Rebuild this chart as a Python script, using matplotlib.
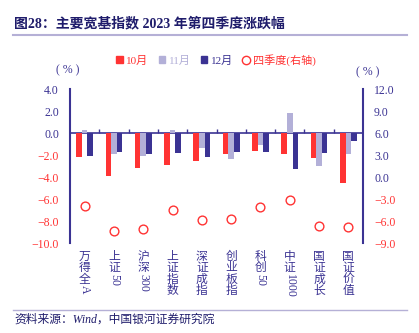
import re
import numpy as np
import matplotlib
matplotlib.use("Agg")
import matplotlib.pyplot as plt
from matplotlib.lines import Line2D
from matplotlib.patches import Patch
from matplotlib.font_manager import FontProperties
from matplotlib.textpath import TextToPath

plt.rcParams['font.family'] = ['Liberation Serif', 'Noto Sans CJK SC', 'DejaVu Sans']
plt.rcParams['axes.unicode_minus'] = False

categories = ["万得全A", "上证50", "沪深300", "上证指数", "深证成指",
              "创业板指", "科创50", "中证1000", "国证成长", "国证价值"]
oct_chg = [-2.2, -3.9, -3.2, -2.9, -2.5, -1.9, -1.6, -1.9, -2.3, -4.5]
nov_chg = [0.3, -1.9, -2.1, 0.3, -1.4, -2.4, -1.1, 1.8, -3.0, -1.9]
dec_chg = [-2.1, -1.7, -1.9, -1.8, -2.2, -1.7, -1.7, -3.3, -1.8, -0.7]
q4_chg = [-3.9, -7.3, -7.1, -4.5, -5.9, -5.7, -4.05, -3.2, -6.7, -6.8]

left_ticks = [4.0, 2.0, 0.0, -2.0, -4.0, -6.0, -8.0, -10.0]
right_ticks = [12.0, 9.0, 6.0, 3.0, 0.0, -3.0, -6.0, -9.0]

RED = "#ff3333"
LAV = "#b3b0d8"
NAVY = "#3b3393"
TITLE = "#1f1c6b"

W, H = 419, 333
fig = plt.figure(figsize=(W / 100, H / 100), dpi=100)
ax = fig.add_axes([70 / W, 1 - 243 / H, (363 - 70) / W, (243 - 89) / H])
ax2 = ax.twinx()

x = np.arange(len(categories))
bw = 0.19
ax.bar(x - bw, oct_chg, bw, color=RED, zorder=3)
ax.bar(x, nov_chg, bw, color=LAV, zorder=3)
ax.bar(x + bw, dec_chg, bw, color=NAVY, zorder=3)
ax2.plot(x, q4_chg, 'o', ms=6.3, mfc='none', mec=RED, mew=1.0)

ax.set_xlim(-0.5, len(categories) - 0.5)
ax.set_ylim(-10, 4)
ax2.set_ylim(-9, 12)

for a in (ax, ax2):
    a.spines['top'].set_visible(False)
    a.patch.set_visible(False)
ax2.spines['bottom'].set_visible(False)
ax2.spines['left'].set_visible(False)
ax.spines['right'].set_visible(False)
ax.spines['left'].set_color(NAVY)
ax.spines['left'].set_linewidth(1.5)
ax2.spines['right'].set_color(NAVY)
ax2.spines['right'].set_linewidth(1.5)
ax.spines['bottom'].set_position(('data', 0))
ax.spines['bottom'].set_color(NAVY)
ax.spines['bottom'].set_linewidth(1.2)
ax.set_zorder(2)

ax.set_xticks(x[:-1] + 0.5)
ax.set_xticklabels([])
ax.tick_params(axis='x', direction='in', length=3, color=NAVY, width=1)

ax.set_yticks(left_ticks)
ax.set_yticklabels([f"{v:.1f}".replace("-", "\u2212") for v in left_ticks])
ax.set_yticks([4, -10], minor=True)
ax.tick_params(axis='y', which='major', length=0, pad=8, labelsize=8.5)
ax.tick_params(axis='y', which='minor', direction='in', length=3, width=1.5, color=NAVY)
for lab, v in zip(ax.get_yticklabels(), left_ticks):
    lab.set_color(RED if v < 0 else NAVY)

ax2.set_yticks(right_ticks)
ax2.set_yticklabels([f"{v:.1f}".replace("-", "\u2212") for v in right_ticks])
ax2.set_yticks([12, -9], minor=True)
ax2.tick_params(axis='y', which='major', length=0, pad=8, labelsize=8.5)
ax2.tick_params(axis='y', which='minor', direction='in', length=3, width=1.5, color=NAVY)
for lab, v in zip(ax2.get_yticklabels(), right_ticks):
    lab.set_color(RED if v < 0 else NAVY)

# vertical category labels: CJK stacked upright, latin runs rotated
fs = 8.5
t2p = TextToPath()
prop = FontProperties(family='Liberation Serif', size=fs)
for xi, name in zip(x, categories):
    off = 0.0
    for seg in re.findall(r'[A-Za-z0-9]+|.', name):
        cjk = ord(seg[0]) > 255
        ax.annotate(seg, xy=(xi, 0), xycoords=('data', 'axes fraction'),
                    xytext=(0, -6 - off), textcoords='offset points',
                    ha='center', va='top', rotation=0 if cjk else -90,
                    fontsize=fs, color=NAVY)
        if cjk:
            off += 8.0
        else:
            w, h, d = t2p.get_text_width_height_descent(seg, prop, ismath=False)
            off += w + 1.5

fig.text(68 / W, 1 - 70 / H, "( % )", color=NAVY, fontsize=8.5, ha='center', va='center')
fig.text(368 / W, 1 - 72 / H, "( % )", color=NAVY, fontsize=8.5, ha='center', va='center')

handles = [Patch(color=RED), Patch(color=LAV), Patch(color=NAVY),
           Line2D([], [], ls='none', marker='o', ms=6, mfc='none', mec=RED)]
labels = ["10月", "11月", "12月", "四季度(右轴)"]
leg = fig.legend(handles, labels, loc='center', bbox_to_anchor=(216 / W, 1 - 60 / H),
                 ncol=4, frameon=False, fontsize=8, handlelength=0.6,
                 handleheight=0.6, handletextpad=0.3, columnspacing=0.9)
for txt, c in zip(leg.get_texts(), [RED, LAV, NAVY, RED]):
    txt.set_color(c)

fig.text(14 / W, 1 - 23 / H, "图28：主要宽基指数 2023 年第四季度涨跌幅",
         color=TITLE, fontsize=10, fontweight='bold', va='center')
fig.add_artist(Line2D([13 / W, 407 / W], [1 - 35 / H, 1 - 35 / H], color="#b5b0d6", lw=1.5))
fig.add_artist(Line2D([13 / W, 407 / W], [1 - 310 / H, 1 - 310 / H], color="#b5b0d6", lw=1.0))
fig.text(14 / W, 1 - 320 / H, "资料来源：Wind，中国银河证券研究院",
         color=TITLE, fontsize=8.5, style='italic', va='center')

fig.savefig("out.png", dpi=100)
